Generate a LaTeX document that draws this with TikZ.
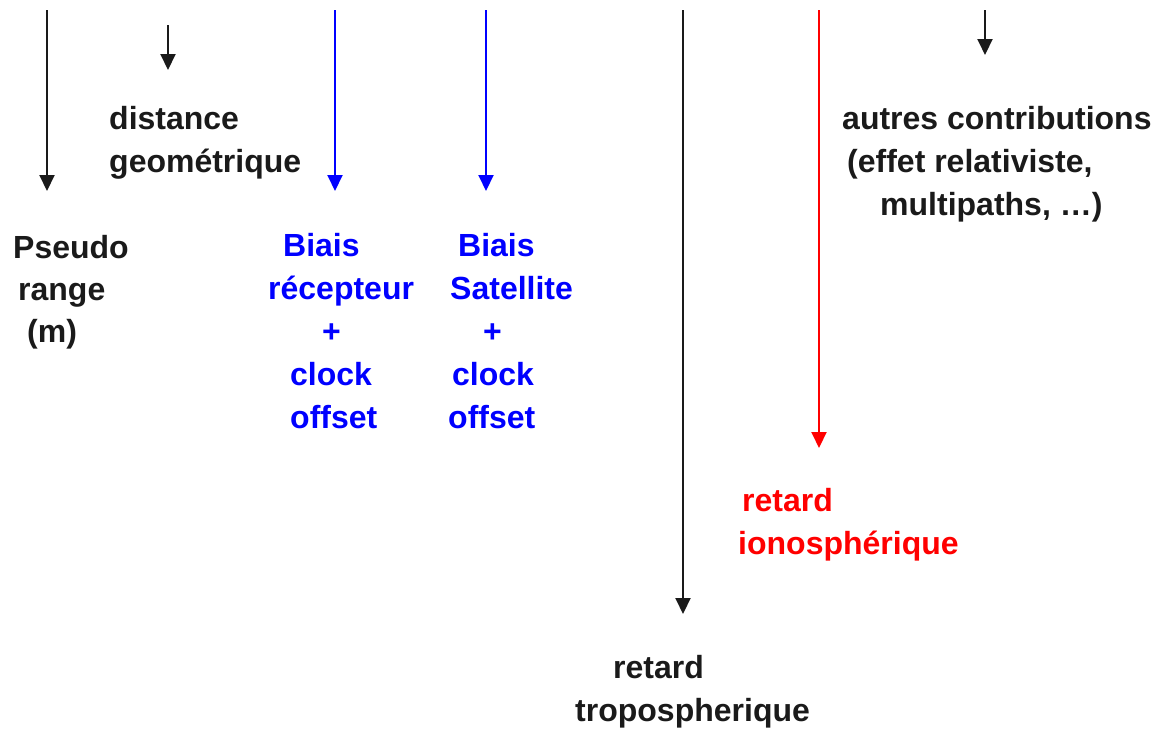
\documentclass[tikz,border=0pt]{standalone}
\usepackage{fontspec}
\setmainfont{Liberation Sans}
\usetikzlibrary{arrows.meta}
\definecolor{ink}{RGB}{26,26,26}
\definecolor{pblue}{RGB}{0,0,255}
\definecolor{pred}{RGB}{255,0,0}
\tikzset{
  lbl/.style={anchor=base west, inner sep=0pt, align=left,
    font=\fontsize{32}{43}\selectfont\bfseries},
  arr/.style={line width=2pt, -{Triangle[width=15pt,length=16pt]}},
}
\begin{document}
\begin{tikzpicture}[x=1pt,y=-1pt]
\useasboundingbox (0,0) rectangle (1155,729);

% arrow end points
\coordinate (pr-s) at (47,10);   \coordinate (pr-e) at (47,191);
\coordinate (dg-s) at (168,25);  \coordinate (dg-e) at (168,70);
\coordinate (br-s) at (335,10);  \coordinate (br-e) at (335,191);
\coordinate (bs-s) at (486,10);  \coordinate (bs-e) at (486,191);
\coordinate (tr-s) at (683,10);  \coordinate (tr-e) at (683,614);
\coordinate (io-s) at (819,10);  \coordinate (io-e) at (819,448);
\coordinate (ac-s) at (985,10);  \coordinate (ac-e) at (985,55);

% arrows
\draw[arr, ink]   (pr-s) -- (pr-e);
\draw[arr, ink]   (dg-s) -- (dg-e);
\draw[arr, pblue] (br-s) -- (br-e);
\draw[arr, pblue] (bs-s) -- (bs-e);
\draw[arr, ink]   (tr-s) -- (tr-e);
\draw[arr, pred]  (io-s) -- (io-e);
\draw[arr, ink]   (ac-s) -- (ac-e);

% labels
\node[lbl, text=ink, font=\fontsize{32}{42}\selectfont\bfseries] (pseudo) at (13,342)
  {Pseudo\\\hspace*{5pt}range\\\hspace*{14pt}(m)};
\node[lbl, text=ink] (dist) at (109,172)
  {distance\\geométrique};
\node[lbl, text=pblue] (brec) at (268,428)
  {\hspace*{15pt}Biais\\récepteur\\\hspace*{54pt}+\\\hspace*{22pt}clock\\\hspace*{22pt}offset};
\node[lbl, text=pblue] (bsat) at (448,428)
  {\hspace*{10pt}Biais\\\hspace*{2pt}Satellite\\\hspace*{35pt}+\\\hspace*{4pt}clock\\offset};
\node[lbl, text=ink] (tropo) at (575,721)
  {\hspace*{38pt}retard\\tropospherique};
\node[lbl, text=pred] (iono) at (738,554)
  {\hspace*{4pt}retard\\ionosphérique};
\node[lbl, text=ink] (autres) at (842,215)
  {autres contributions\\\hspace*{5pt}(effet relativiste,\\\hspace*{38pt}multipaths, …)};
\end{tikzpicture}
\end{document}
